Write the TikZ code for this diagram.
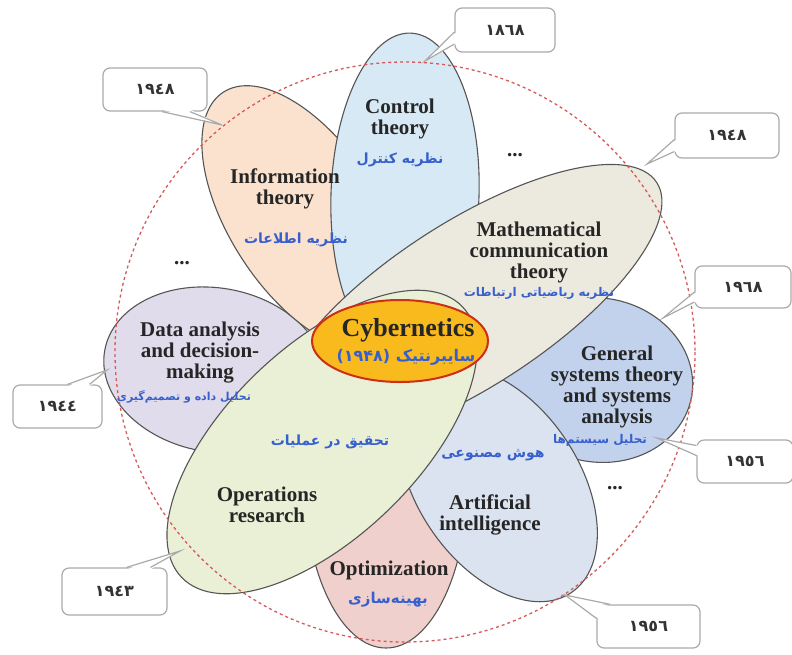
\documentclass[tikz,border=0pt]{standalone}
\usepackage{fontspec}
\setmainfont{Liberation Serif}
\newfontfamily\persianfont[Script=Arabic]{DejaVu Sans}
\TeXXeTstate=1
\usepackage{tikz}
\usetikzlibrary{shapes.geometric,calc}

\definecolor{ctrlblue}{RGB}{214,233,244}
\definecolor{infopeach}{RGB}{251,226,206}
\definecolor{mathbeige}{RGB}{236,233,222}
\definecolor{gsblue}{RGB}{194,210,236}
\definecolor{aiblue}{RGB}{220,227,240}
\definecolor{optpink}{RGB}{240,208,205}
\definecolor{orgreen}{RGB}{233,240,213}
\definecolor{datalav}{RGB}{225,220,236}
\definecolor{cyberfill}{RGB}{248,186,28}
\definecolor{cyberline}{RGB}{205,45,25}
\definecolor{persianblue}{RGB}{55,95,205}
\definecolor{dashred}{RGB}{215,90,90}
\definecolor{petalline}{RGB}{85,85,85}
\definecolor{calloutgray}{RGB}{170,170,170}

\begin{document}
\begin{tikzpicture}[x=1pt, y=-1pt]
\tikzstyle{petal}=[draw=petalline, line width=1.1pt, shape=ellipse, inner sep=0pt];
\tikzstyle{en label}=[font=\bfseries\fontsize{21}{21}\selectfont, align=center, text=black!85];
\tikzstyle{fa label}=[font=\persianfont\bfseries\fontsize{14}{16}\selectfont, text=persianblue, inner sep=1pt];
\tikzstyle{year}=[draw=calloutgray, fill=white, line width=1.2pt, rounded corners=7pt, font=\persianfont\bfseries\fontsize{16}{18}\selectfont, text=black!80];
\tikzstyle{pointer}=[draw=calloutgray, line width=1.2pt];
\useasboundingbox (0,0) rectangle (792,654);

% petals, back to front
\path (386,478) node[petal, fill=optpink, minimum width=164pt, minimum height=340pt] (opt) {};
\path (215,370) node[petal, fill=datalav, minimum width=224pt, minimum height=164pt, rotate=-10] (data) {};
\path (305,218) node[petal, fill=infopeach, minimum width=300pt, minimum height=150pt, rotate=-57] (info) {};
\path (405,195) node[petal, fill=ctrlblue, minimum width=324pt, minimum height=148pt, rotate=88] (ctrl) {};
\path (598,380) node[petal, fill=gsblue, minimum width=190pt, minimum height=164pt, rotate=-10] (gs) {};
\path (498,484) node[petal, fill=aiblue, minimum width=262pt, minimum height=162pt, rotate=-56] (ai) {};
\path (468,305) node[petal, fill=mathbeige, minimum width=450pt, minimum height=164pt, rotate=33] (math) {};
\path (322,442) node[petal, fill=orgreen, minimum width=390pt, minimum height=190pt, rotate=44] (or) {};
\path (400,341) node[draw=cyberline, fill=cyberfill, line width=2pt, shape=ellipse, inner sep=0pt, minimum width=176pt, minimum height=82pt] (cyber) {};

\draw[dashred, dashed, line width=1.3pt] (405,352) circle [radius=290];

% year callouts
\path (505,30) node[year, minimum width=100pt, minimum height=44pt] (y1868) {١٨٦٨};
\coordinate (t1868) at (425,61);
\fill[white] ($(y1868.west)+(2,2)$) -- (t1868) -- ($(y1868.west)+(2,14)$) -- cycle;
\draw[pointer] ($(y1868.west)+(0,2)$) -- (t1868) -- ($(y1868.west)+(0,14)$);

\path (155,89.5) node[year, minimum width=104pt, minimum height=43pt] (y1948a) {١٩٤٨};
\coordinate (t1948a) at (222,125);
\fill[white] ($(y1948a.south)+(7,-2)$) -- (t1948a) -- ($(y1948a.south)+(35,-2)$) -- cycle;
\draw[pointer] ($(y1948a.south)+(7,0)$) -- (t1948a) -- ($(y1948a.south)+(35,0)$);

\path (727,135.5) node[year, minimum width=104pt, minimum height=45pt] (y1948b) {١٩٤٨};
\coordinate (t1948b) at (647,164);
\fill[white] ($(y1948b.west)+(2,4)$) -- (t1948b) -- ($(y1948b.west)+(2,16)$) -- cycle;
\draw[pointer] ($(y1948b.west)+(0,4)$) -- (t1948b) -- ($(y1948b.west)+(0,16)$);

\path (743,287) node[year, minimum width=96pt, minimum height=42pt] (y1968) {١٩٦٨};
\coordinate (t1968) at (663,318);
\fill[white] ($(y1968.west)+(2,5)$) -- (t1968) -- ($(y1968.west)+(2,15)$) -- cycle;
\draw[pointer] ($(y1968.west)+(0,5)$) -- (t1968) -- ($(y1968.west)+(0,15)$);

\path (57.5,406.5) node[year, minimum width=89pt, minimum height=43pt] (y1944) {١٩٤٤};
\coordinate (t1944) at (107,370);
\fill[white] ($(y1944.north)+(10,2)$) -- (t1944) -- ($(y1944.north)+(32,2)$) -- cycle;
\draw[pointer] ($(y1944.north)+(10,0)$) -- (t1944) -- ($(y1944.north)+(32,0)$);

\path (745,461.5) node[year, minimum width=96pt, minimum height=43pt] (y1956a) {١٩٥٦};
\coordinate (t1956a) at (657,438);
\fill[white] ($(y1956a.west)+(2,-16)$) -- (t1956a) -- ($(y1956a.west)+(2,-6)$) -- cycle;
\draw[pointer] ($(y1956a.west)+(0,-16)$) -- (t1956a) -- ($(y1956a.west)+(0,-6)$);

\path (114.5,591.5) node[year, minimum width=105pt, minimum height=47pt] (y1943) {١٩٤٣};
\coordinate (t1943) at (180,551);
\fill[white] ($(y1943.north)+(12,2)$) -- (t1943) -- ($(y1943.north)+(36,2)$) -- cycle;
\draw[pointer] ($(y1943.north)+(12,0)$) -- (t1943) -- ($(y1943.north)+(36,0)$);

\path (648.5,626.5) node[year, minimum width=103pt, minimum height=43pt] (y1956b) {١٩٥٦};
\coordinate (t1956b) at (565,595);
\fill[white] ($(y1956b.north west)+(14,2)$) -- (t1956b) -- ($(y1956b.north west)+(2,14)$) -- cycle;
\draw[pointer] ($(y1956b.north west)+(14,0)$) -- (t1956b) -- ($(y1956b.north west)+(0,14)$);

% labels
\path (400,119) node[en label] (ctrl en) {Control\\theory};
\path (400,160) node[fa label] (ctrl fa) {\beginR نظریه کنترل\endR};
\path (285,189) node[en label] (info en) {Information\\theory};
\path (296,240) node[fa label] (info fa) {\beginR نظریه اطلاعات\endR};
\path (539,252) node[en label] (math en) {Mathematical\\communication\\theory};
\path (539,293) node[fa label, font=\persianfont\bfseries\fontsize{12}{14}\selectfont] (math fa) {\beginR نظریه ریاضیاتی ارتباطات\endR};
\path (617,387) node[en label] (gs en) {General\\systems theory\\and systems\\analysis};
\path (600,440) node[fa label, font=\persianfont\bfseries\fontsize{12}{14}\selectfont] (gs fa) {\beginR تحلیل سیستم‌ها\endR};
\path (200,353) node[en label] (data en) {Data analysis\\and decision-\\making};
\path (184,397) node[fa label, font=\persianfont\bfseries\fontsize{11}{13}\selectfont] (data fa) {\beginR تحلیل داده و تصمیم‌گیری\endR};
\path (330,442) node[fa label] (or fa) {\beginR تحقیق در عملیات\endR};
\path (267,505) node[en label] (or en) {Operations\\research};
\path (493,455) node[fa label] (ai fa) {\beginR هوش مصنوعی\endR};
\path (490,515) node[en label] (ai en) {Artificial\\intelligence};
\path (389,570) node[en label] (opt en) {Optimization};
\path (388,600) node[fa label, font=\persianfont\bfseries\fontsize{15}{17}\selectfont] (opt fa) {\beginR بهینه‌سازی\endR};
\path (408,330) node[en label, font=\bfseries\fontsize{26}{26}\selectfont] (cyber en) {Cybernetics};
\path (406,357) node[fa label, font=\persianfont\bfseries\fontsize{16}{18}\selectfont] (cyber fa) {(۱۹۴۸) \beginR سایبرنتیک\endR};
\path (515,155) node[en label] (dots1) {...};
\path (182,263) node[en label] (dots2) {...};
\path (615,488) node[en label] (dots3) {...};
\end{tikzpicture}
\end{document}
